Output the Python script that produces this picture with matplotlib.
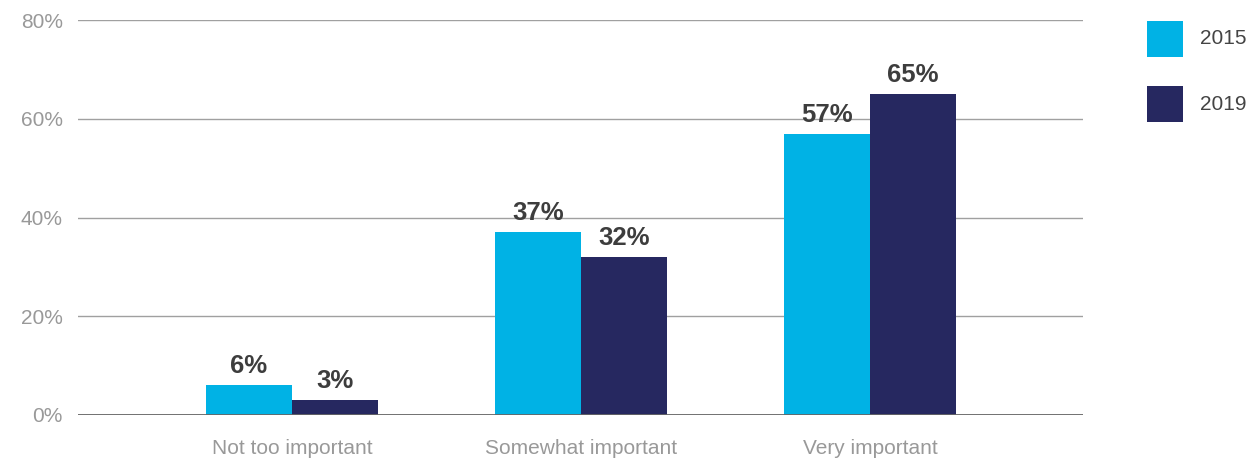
import matplotlib
matplotlib.use("Agg")
import matplotlib.pyplot as plt
import numpy as np
from matplotlib.patches import Rectangle
from matplotlib.ticker import FuncFormatter

# Survey responses by importance level
categories = ["Not too important", "Somewhat important", "Very important"]
years = ["2015", "2019"]
values_2015 = [6, 37, 57]
values_2019 = [3, 32, 65]
y_ticks = [0, 20, 40, 60, 80]

color_2015 = "#00B2E5"
color_2019 = "#262860"
colors = [color_2015, color_2019]

plt.rcParams["font.family"] = ["Liberation Sans", "DejaVu Sans"]

W, H = 1250, 458
fig = plt.figure(figsize=(W / 100, H / 100), dpi=100)
ax = fig.add_axes([78 / W, 1 - 415 / H, (1083 - 78) / W, (415 - 20) / H])

x = np.arange(len(categories))
w = 0.298
b1 = ax.bar(x - w / 2, values_2015, w, color=color_2015, zorder=3)
b2 = ax.bar(x + w / 2, values_2019, w, color=color_2019, zorder=3)

for bars, vals in ((b1, values_2015), (b2, values_2019)):
    for rect, v in zip(bars, vals):
        ax.annotate(f"{v}%", (rect.get_x() + rect.get_width() / 2, rect.get_height()),
                    xytext=(0, 5), textcoords="offset points", ha="center", va="bottom",
                    fontsize=18.5, fontweight="bold", color="#3d3d3d", zorder=4)

ax.set_xlim(-0.74, 2.737)
ax.set_ylim(0, 80)
ax.set_yticks(y_ticks)
ax.yaxis.set_major_formatter(FuncFormatter(lambda v, _: f"{v:.0f}%"))
ax.set_xticks(x)
ax.set_xticklabels(categories)

for s in ax.spines.values():
    s.set_visible(False)
ax.tick_params(axis="both", length=0, labelsize=15, labelcolor="#999999")
ax.tick_params(axis="y", pad=11)
ax.tick_params(axis="x", pad=17)

for t in y_ticks[1:]:
    ax.axhline(t, color="#a0a0a0", linewidth=1.0, zorder=1)
ax.axhline(0, color="#666666", linewidth=1.3, zorder=4)

# Legend: colour swatches with year labels to the right of the plot
sq = 36
for i, (yr, c) in enumerate(zip(years, colors)):
    top = 21 + i * 65
    fig.patches.append(Rectangle((1147 / W, 1 - (top + sq) / H), sq / W, sq / H,
                                 transform=fig.transFigure, facecolor=c, edgecolor="none"))
    fig.text(1200 / W, 1 - (top + sq / 2) / H, yr, ha="left", va="center",
             fontsize=15, color="#444444")

fig.savefig("out.png", dpi=100)
